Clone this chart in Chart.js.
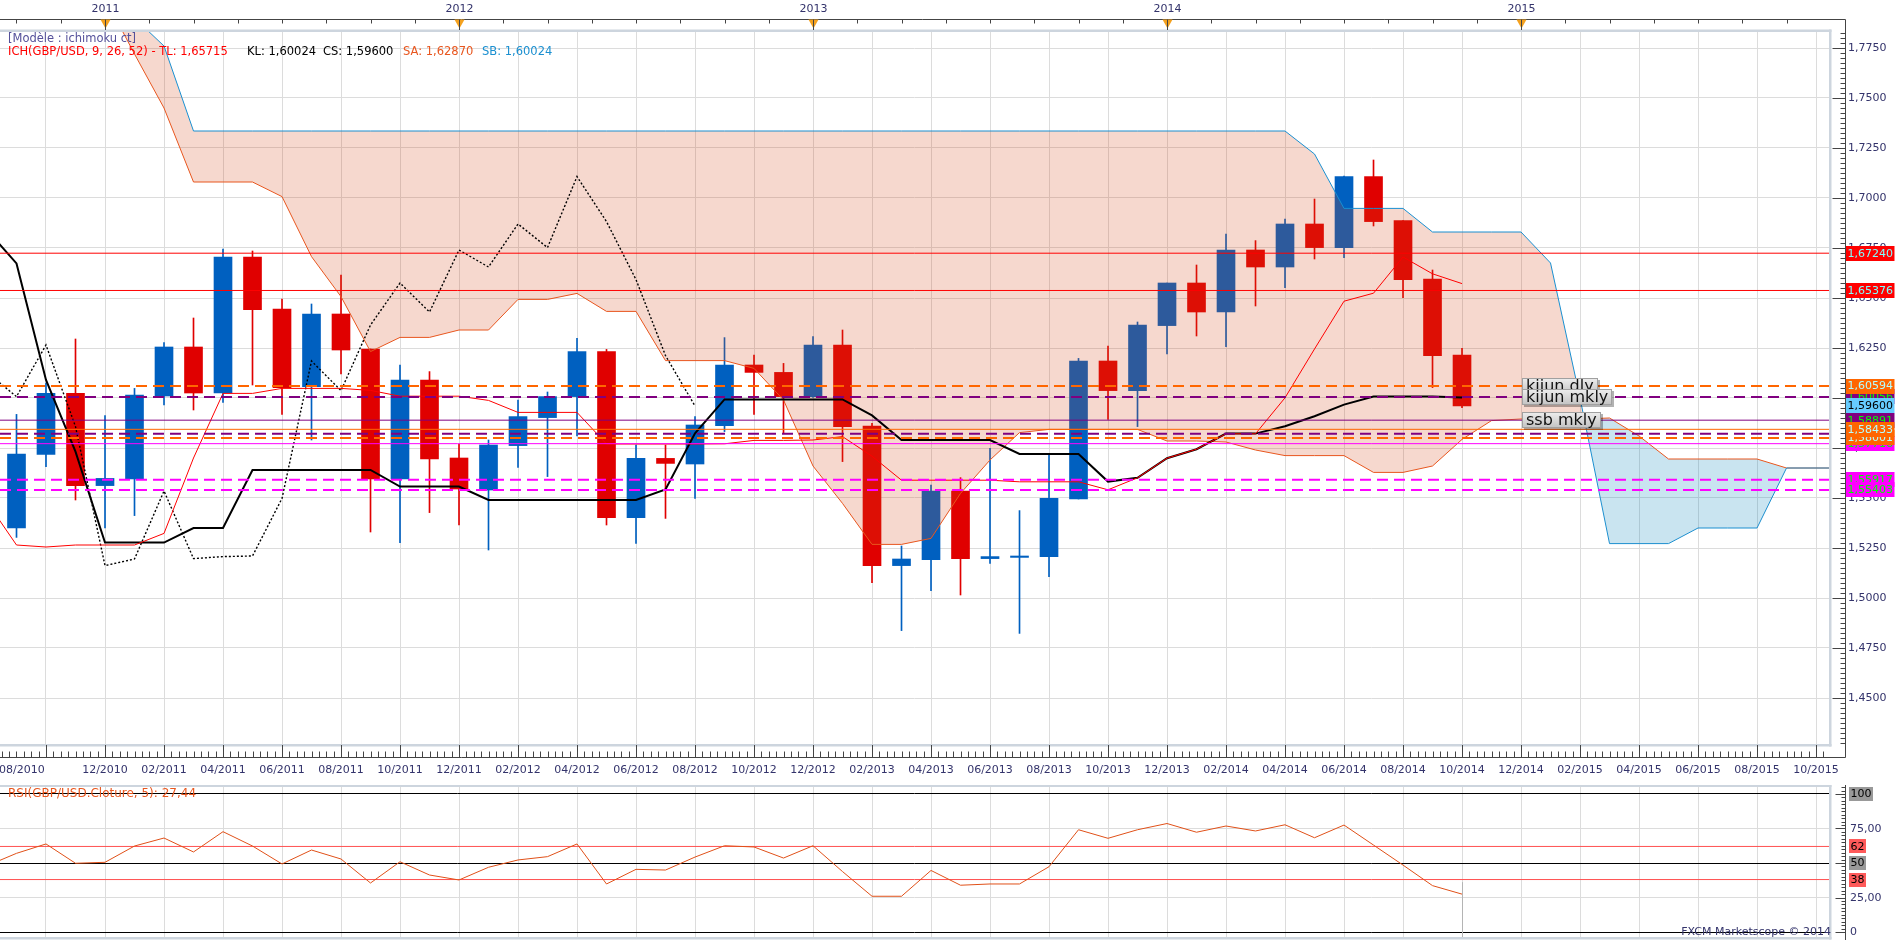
<!DOCTYPE html>
<html>
<head>
<meta charset="utf-8">
<title>GBP/USD mensuel - ichimoku</title>
<script src="https://cdn.jsdelivr.net/npm/chart.js@4.4.1/dist/chart.umd.min.js"></script>
<style>
  html, body { margin: 0; padding: 0; background: #fff; overflow: hidden; }
  #wrap { position: relative; width: 1903px; height: 940px; }
  canvas { position: absolute; left: 0; }
  #main { top: 0; }
  #rsi { top: 785px; }
</style>
</head>
<body>
<div id="wrap">
  <canvas id="main" width="1903" height="785"></canvas>
  <canvas id="rsi" width="1903" height="155"></canvas>
</div>
<script>
// month index 0 = 08/2010, one step per month
const xLabels = ['08/2010', '10/2010', '12/2010', '02/2011', '04/2011', '06/2011', '08/2011', '10/2011',
  '12/2011', '02/2012', '04/2012', '06/2012', '08/2012', '10/2012', '12/2012', '02/2013',
  '04/2013', '06/2013', '08/2013', '10/2013', '12/2013', '02/2014', '04/2014', '06/2014',
  '08/2014', '10/2014', '12/2014', '02/2015', '04/2015', '06/2015', '08/2015', '10/2015'];
const labelStep = 2;
const yearLabels = ['2011', '2012', '2013', '2014', '2015'];
const yearMonths = [4, 16, 28, 40, 52];
const priceTicks = [1.45, 1.475, 1.5, 1.525, 1.55, 1.575, 1.6, 1.625, 1.65, 1.675, 1.7, 1.725, 1.75, 1.775];
const rsiTicks = [0, 25, 50, 75, 100];

// monthly candles 09/2010 .. 10/2014
const candleFirst = 1;
const opens = [1.5350, 1.5718, 1.6023, 1.5562, 1.5595, 1.6010, 1.6255, 1.6025, 1.6705, 1.6445,
  1.6057, 1.6420, 1.6245, 1.5595, 1.6090, 1.5700, 1.5540, 1.5762, 1.5902, 1.6007,
  1.6232, 1.5402, 1.5698, 1.5670, 1.5862, 1.6165, 1.6128, 1.6007, 1.6265, 1.5860,
  1.5162, 1.5192, 1.5535, 1.5197, 1.5203, 1.5207, 1.5495, 1.6185, 1.6037, 1.6362,
  1.6575, 1.6430, 1.6740, 1.6655, 1.6870, 1.6752, 1.7107, 1.6887, 1.6595, 1.6215];
const highs = [1.5918, 1.6075, 1.6295, 1.5912, 1.6048, 1.6277, 1.6400, 1.6745, 1.6735, 1.6495,
  1.6470, 1.6615, 1.6245, 1.6165, 1.6132, 1.5770, 1.5790, 1.5990, 1.6030, 1.6298,
  1.6243, 1.5765, 1.5765, 1.5907, 1.6302, 1.6215, 1.6173, 1.6307, 1.6340, 1.5873,
  1.5260, 1.5565, 1.5602, 1.5748, 1.5437, 1.5723, 1.6198, 1.6260, 1.6380, 1.6575,
  1.6665, 1.6820, 1.6787, 1.6895, 1.6995, 1.7110, 1.7190, 1.6887, 1.6640, 1.6248];
const lows = [1.5303, 1.5657, 1.5490, 1.5350, 1.5412, 1.5965, 1.5940, 1.5978, 1.6065, 1.5918,
  1.5790, 1.6120, 1.5330, 1.5277, 1.5427, 1.5365, 1.5240, 1.5653, 1.5607, 1.5810,
  1.5365, 1.5273, 1.5398, 1.5498, 1.5832, 1.5918, 1.5823, 1.6003, 1.5682, 1.5077,
  1.4837, 1.5037, 1.5015, 1.5173, 1.4823, 1.5107, 1.5495, 1.5893, 1.5857, 1.6220,
  1.6310, 1.6257, 1.6460, 1.6552, 1.6695, 1.6702, 1.6860, 1.6502, 1.6052, 1.5952];
const closes = [1.5720, 1.6023, 1.5562, 1.5598, 1.6015, 1.6255, 1.6025, 1.6705, 1.6442, 1.6052,
  1.6420, 1.6240, 1.5595, 1.6090, 1.5695, 1.5545, 1.5765, 1.5907, 1.6007, 1.6232,
  1.5402, 1.5698, 1.5673, 1.5865, 1.6165, 1.6128, 1.6007, 1.6265, 1.5857, 1.5162,
  1.5195, 1.5535, 1.5197, 1.5207, 1.5210, 1.5498, 1.6185, 1.6037, 1.6365, 1.6575,
  1.6430, 1.6740, 1.6655, 1.6870, 1.6752, 1.7107, 1.6882, 1.6592, 1.6212, 1.5960];

// tenkan / kijun from 08/2010
const lineFirst = 0;
const tenkan = [1.5480, 1.5265, 1.5255, 1.5265, 1.5265, 1.5265, 1.5323, 1.5700, 1.6023, 1.6023,
  1.6048, 1.6048, 1.6048, 1.6038, 1.6009, 1.6009, 1.6009, 1.5988, 1.5928, 1.5928,
  1.5928, 1.5770, 1.5770, 1.5770, 1.5770, 1.5771, 1.5788, 1.5788, 1.5790, 1.5807,
  1.5709, 1.5589, 1.5589, 1.5589, 1.5589, 1.5581, 1.5581, 1.5581, 1.5541, 1.5601,
  1.5699, 1.5744, 1.5821, 1.5821, 1.6001, 1.6245, 1.6484, 1.6524, 1.6705, 1.6621, 1.6572];
const kijun = [1.6840, 1.6673, 1.6090, 1.5732, 1.5277, 1.5277, 1.5277, 1.5350, 1.5350, 1.5640,
  1.5640, 1.5640, 1.5640, 1.5640, 1.5557, 1.5557, 1.5557, 1.5490, 1.5490, 1.5490,
  1.5490, 1.5490, 1.5490, 1.5543, 1.5823, 1.5993, 1.5993, 1.5993, 1.5993, 1.5993,
  1.5913, 1.5790, 1.5790, 1.5790, 1.5790, 1.5720, 1.5720, 1.5720, 1.5582, 1.5601,
  1.5699, 1.5744, 1.5822, 1.5822, 1.5859, 1.5909, 1.5967, 1.6007, 1.6007, 1.6007, 1.6002];
const chikouShift = 26;

// cloud from 12/2010 to the right edge
const cloudFirst = 4;
const senkouA = [1.8000, 1.7720, 1.7450, 1.7080, 1.7080, 1.7080, 1.7007, 1.6707, 1.6507, 1.6232,
  1.6303, 1.6303, 1.6340, 1.6340, 1.6493, 1.6493, 1.6523, 1.6433, 1.6433, 1.6187,
  1.6187, 1.6187, 1.6148, 1.5990, 1.5660, 1.5473, 1.5268, 1.5268, 1.5298, 1.5523,
  1.5690, 1.5827, 1.5843, 1.5843, 1.5843, 1.5843, 1.5785, 1.5785, 1.5780, 1.5740,
  1.5712, 1.5712, 1.5712, 1.5628, 1.5628, 1.5660, 1.5793, 1.5887, 1.5895, 1.5895,
  1.5895, 1.5900, 1.5810, 1.5695, 1.5695, 1.5695, 1.5695, 1.5650, 1.5650, 1.5650];
const senkouB = [1.8000, 1.7900, 1.7760, 1.7335, 1.7335, 1.7335, 1.7335, 1.7335, 1.7335, 1.7335,
  1.7335, 1.7335, 1.7335, 1.7335, 1.7335, 1.7335, 1.7335, 1.7335, 1.7335, 1.7335,
  1.7335, 1.7335, 1.7335, 1.7335, 1.7335, 1.7335, 1.7335, 1.7335, 1.7335, 1.7335,
  1.7335, 1.7335, 1.7335, 1.7335, 1.7335, 1.7335, 1.7335, 1.7335, 1.7335, 1.7335,
  1.7335, 1.7220, 1.6948, 1.6948, 1.6948, 1.6830, 1.6830, 1.6830, 1.6830, 1.6675,
  1.6000, 1.5272, 1.5272, 1.5272, 1.5350, 1.5350, 1.5350, 1.5650, 1.5650, 1.5650];

// RSI(5) from 08/2010
const rsiValues = [48.0, 57.0, 63.8, 49.8, 50.5, 62.3, 68.1, 58.0, 72.7, 62.3,
  49.3, 59.4, 52.9, 35.5, 50.9, 41.3, 37.7, 46.9, 52.2, 54.6,
  63.8, 34.8, 45.4, 44.9, 54.3, 62.5, 61.6, 53.6, 62.5, 43.8,
  25.9, 25.9, 44.6, 33.9, 34.8, 34.8, 47.3, 74.1, 67.9, 74.1,
  78.6, 72.3, 76.8, 73.2, 77.7, 68.3, 77.5, 63.0, 48.5, 33.6, 27.44];
const rsiLevels = [62, 38];

// horizontal levels drawn by the user
const priceLevels = [1.67240, 1.65376, 1.60594, 1.60056, 1.58891, 1.58433, 1.58218, 1.58001, 1.57716, 1.55917, 1.55403];

// ---- styles ----
const DASH = [11, 6];
const levelStyles = [
  { color: '#ff0000', width: 1, dash: [], box: '#ff0000', text: '#80ffff' },
  { color: '#ff0000', width: 1, dash: [], box: '#ff0000', text: '#80ffff' },
  { color: '#ff6600', width: 2, dash: DASH, box: '#ff6600', text: '#b4ffff' },
  { color: '#800080', width: 2, dash: DASH, box: '#800080', text: '#00ff00' },
  { color: '#800080', width: 1, dash: [], box: '#800080', text: '#00ff00' },
  { color: '#ff6600', width: 1, dash: [], box: '#ff6600', text: '#b4ffff' },
  { color: '#800080', width: 2, dash: DASH, box: null },
  { color: '#ff6600', width: 2, dash: DASH, box: '#ff6600', text: '#b4ffff' },
  { color: '#ff00ff', width: 1, dash: [], box: '#ff00ff', text: '#00ff00' },
  { color: '#ff00ff', width: 2, dash: DASH, box: '#ff00ff', text: '#00ff00' },
  { color: '#ff00ff', width: 2, dash: DASH, box: '#ff00ff', text: '#00ff00' }
];
const boxOrder = [0, 1, 3, 2, 4, 8, 7, 5, 9, 10];
const calloutLevels = [2, 3, 4];
const calloutTexts = ['kijun dly', 'kijun mkly', 'ssb mkly'];
const calloutMonth = 52;

const legendTitle = '[Modèle : ichimoku ct]';
const legendParts = ['ICH(GBP/USD, 9, 26, 52) - TL: 1,65715', 'KL: 1,60024', 'CS: 1,59600', 'SA: 1,62870', 'SB: 1,60024'];
const legendColors = ['#ff0000', '#000000', '#000000', '#e8561e', '#1a8fd0'];
const legendX = [8, 247, 323, 403, 482];
const rsiTitle = 'RSI(GBP/USD.Cloture, 5): 27,44';
const credit = 'FXCM Marketscope © 2014';

const X_MIN = 0.4407, X_MAX = 62.44;
const INK = '#33336b';
const FRAME = '#cdd5de';
const GRID = '#dcdcdc';
const AXIS_X = 1845.5;
const FAMILY = '"DejaVu Sans", Verdana, sans-serif';
const F11 = '11px ' + FAMILY;
const F115 = '11.5px ' + FAMILY;
const F12 = '12px ' + FAMILY;
const UP = '#0060c0', DOWN = '#e00000';

const fmt = (v, d) => v.toFixed(d).replace('.', ',');
const pts = (arr, first) => arr.map((v, k) => ({ x: first + k, y: v }));
const crisp = v => Math.round(v) + 0.5;

function labelBox(ctx, text, py, bg, fg, x0, h) {
  ctx.font = F11;
  const w = ctx.measureText(text).width + 3;
  ctx.fillStyle = bg;
  ctx.fillRect(x0, Math.round(py - h / 2), w, h);
  ctx.fillStyle = fg;
  ctx.textAlign = 'left';
  ctx.textBaseline = 'middle';
  ctx.fillText(text, x0 + 1.5, py + 0.5);
}

function callout(ctx, text, px, py) {
  ctx.font = '16px ' + FAMILY;
  const w = Math.round(ctx.measureText(text).width + 8), h = 16;
  const x0 = Math.round(px), y0 = Math.round(py - h / 2);
  ctx.fillStyle = 'rgba(0,0,0,0.3)';
  ctx.fillRect(x0 + 2, y0 + 2, w, h);
  const g = ctx.createLinearGradient(0, y0, 0, y0 + h);
  g.addColorStop(0, '#eeeeee');
  g.addColorStop(1, '#c2c2c2');
  ctx.fillStyle = g;
  ctx.fillRect(x0, y0, w, h);
  ctx.strokeStyle = '#a0a0a0';
  ctx.lineWidth = 1;
  ctx.strokeRect(x0 + 0.5, y0 + 0.5, w - 1, h - 1);
  ctx.fillStyle = '#111';
  ctx.textAlign = 'left';
  ctx.textBaseline = 'middle';
  ctx.fillText(text, x0 + 4, y0 + h / 2 + 0.5);
}

function frame(ctx, a) {
  ctx.fillStyle = FRAME;
  ctx.fillRect(0, a.top - 2.5, a.right + 2.5, 2.5);
  ctx.fillRect(a.right, a.top - 2.5, 2.5, a.bottom - a.top + 5);
  ctx.fillRect(0, a.bottom, a.right + 2.5, 2.5);
}

// ---- main panel ----
const isUp = opens.map((o, k) => closes[k] >= o);
const candleColors = isUp.map(u => (u ? UP : DOWN));

const mainSets = [];
priceLevels.forEach((v, k) => {
  const s = levelStyles[k];
  mainSets.push({
    type: 'line', data: [{ x: X_MIN, y: v }, { x: X_MAX, y: v }],
    borderColor: s.color, borderWidth: s.width, borderDash: s.dash,
    pointRadius: 0, order: 0
  });
});
mainSets.push({
  type: 'line', data: pts(tenkan, lineFirst), borderColor: '#ff0000', borderWidth: 1,
  pointRadius: 0, order: 1
});
mainSets.push({
  type: 'line', data: pts(kijun, lineFirst), borderColor: '#000000', borderWidth: 2,
  pointRadius: 0, order: 1
});
mainSets.push({
  type: 'line', data: pts(closes, candleFirst - chikouShift), borderColor: '#000000', borderWidth: 1.4,
  borderDash: [2, 2], pointRadius: 0, order: 1
});
const sbIndex = mainSets.length;
mainSets.push({
  type: 'line', data: pts(senkouB, cloudFirst), borderColor: '#1a8fd0', borderWidth: 1,
  pointRadius: 0, order: 2
});
mainSets.push({
  type: 'line', data: pts(senkouA, cloudFirst), borderColor: '#e8561e', borderWidth: 1,
  pointRadius: 0, order: 2,
  fill: { target: sbIndex, above: 'rgba(0,128,184,0.21)', below: 'rgba(212,73,22,0.21)' }
});
mainSets.push({
  type: 'bar', data: opens.map((o, k) => ({ x: candleFirst + k, y: [o, closes[k]] })),
  backgroundColor: candleColors, borderWidth: 0, barThickness: 18, grouped: false,
  minBarLength: 1, order: 3
});
mainSets.push({
  type: 'bar', data: lows.map((l, k) => ({ x: candleFirst + k, y: [l, highs[k]] })),
  backgroundColor: candleColors, borderWidth: 0, barThickness: 1, grouped: false, order: 4
});

const monthTicks = s => {
  s.ticks = xLabels.map((_, k) => ({ value: k * labelStep }))
    .filter(t => t.value >= X_MIN && t.value <= X_MAX);
};

const mainDeco = {
  id: 'mainDeco',
  afterDraw(chart) {
    const { ctx, chartArea: a, scales: { x, y } } = chart;
    const topY = 19.5, botY = 757.5;
    ctx.save();
    frame(ctx, a);

    ctx.strokeStyle = '#444';
    ctx.lineWidth = 1;
    ctx.beginPath();
    ctx.moveTo(0, topY); ctx.lineTo(AXIS_X, topY);
    ctx.moveTo(AXIS_X, topY); ctx.lineTo(AXIS_X, botY);
    ctx.moveTo(0, botY); ctx.lineTo(AXIS_X, botY);
    for (let m = 1; m <= X_MAX; m += 1.5) {
      const px = crisp(x.getPixelForValue(m));
      ctx.moveTo(px, topY); ctx.lineTo(px, topY + 4);
    }
    for (let m = Math.ceil(X_MIN * 4) / 4; m <= X_MAX; m += 0.25) {
      const px = crisp(x.getPixelForValue(m));
      const major = m % labelStep === 0;
      ctx.moveTo(px, major ? a.bottom + 1 : botY - 6); ctx.lineTo(px, botY);
    }
    for (let k = Math.ceil(y.min / 0.0025); k * 0.0025 <= y.max; k++) {
      const py = crisp(y.getPixelForValue(k * 0.0025));
      ctx.moveTo(AXIS_X - 5, py); ctx.lineTo(AXIS_X, py);
    }
    priceTicks.forEach(v => {
      const py = crisp(y.getPixelForValue(v));
      ctx.moveTo(AXIS_X - 13, py); ctx.lineTo(AXIS_X, py);
    });
    ctx.stroke();

    // years on top
    ctx.font = F11;
    ctx.textBaseline = 'middle';
    ctx.textAlign = 'center';
    yearMonths.forEach((m, k) => {
      const px = crisp(x.getPixelForValue(m));
      ctx.fillStyle = '#f4a11e';
      ctx.beginPath();
      ctx.moveTo(px - 5, topY); ctx.lineTo(px + 5, topY); ctx.lineTo(px, topY + 9); ctx.closePath();
      ctx.fill();
      ctx.strokeStyle = '#444';
      ctx.beginPath(); ctx.moveTo(px, topY); ctx.lineTo(px, a.top - 2); ctx.stroke();
      ctx.fillStyle = INK;
      ctx.fillText(yearLabels[k], px, 9);
    });

    // month labels
    xLabels.forEach((t, k) => {
      if (k === 1) return;
      const px = x.getPixelForValue(k * labelStep);
      ctx.fillStyle = INK;
      if (px < 20) { ctx.textAlign = 'left'; ctx.fillText(t, -1, 770); }
      else { ctx.textAlign = 'center'; ctx.fillText(t, px, 770); }
    });

    // level labels on the price axis
    boxOrder.forEach(k => {
      const s = levelStyles[k];
      labelBox(ctx, fmt(priceLevels[k], 5), y.getPixelForValue(priceLevels[k]), s.box, s.text, 1846, 15);
    });
    const last = closes[closes.length - 1];
    labelBox(ctx, fmt(last, 5), y.getPixelForValue(last), '#66ccff', '#000000', 1846, 15);

    calloutLevels.forEach((k, n) => {
      callout(ctx, calloutTexts[n], x.getPixelForValue(calloutMonth) + 1, y.getPixelForValue(priceLevels[k]));
    });

    // indicator legend
    ctx.textAlign = 'left';
    ctx.textBaseline = 'middle';
    ctx.font = F115;
    ctx.fillStyle = '#54509a';
    ctx.fillText(legendTitle, 8, 39);
    legendParts.forEach((t, k) => {
      ctx.fillStyle = legendColors[k];
      ctx.fillText(t, legendX[k], 52);
    });
    ctx.restore();
  }
};

new Chart(document.getElementById('main'), {
  type: 'line',
  data: { datasets: mainSets },
  options: {
    responsive: false,
    animation: false,
    events: [],
    layout: { padding: { top: 32, left: 0, right: 0, bottom: 0 } },
    plugins: { legend: { display: false }, tooltip: { enabled: false } },
    scales: {
      x: {
        type: 'linear', min: X_MIN, max: X_MAX, offset: false,
        afterBuildTicks: monthTicks,
        afterFit: s => { s.height = 41; },
        ticks: { display: false },
        grid: { color: GRID, drawTicks: false, offset: false },
        border: { display: false }
      },
      y: {
        type: 'linear', position: 'right', min: 1.427, max: 1.783,
        afterBuildTicks: s => { s.ticks = priceTicks.map(v => ({ value: v })); },
        afterFit: s => { s.width = 74; },
        ticks: {
          padding: 19, color: INK,
          font: { family: FAMILY, size: 11 },
          callback: v => fmt(v, 4)
        },
        grid: { color: GRID, drawTicks: false },
        border: { display: false }
      }
    }
  },
  plugins: [mainDeco]
});

// ---- RSI panel ----
const rsiSets = [];
rsiLevels.forEach(v => {
  rsiSets.push({
    type: 'line', data: [{ x: X_MIN, y: v }, { x: X_MAX, y: v }],
    borderColor: '#ff5050', borderWidth: 1, pointRadius: 0, order: 2
  });
});
rsiSets.push({
  type: 'line', data: pts(rsiValues, lineFirst), borderColor: '#e05018', borderWidth: 1,
  pointRadius: 0, order: 1
});

const rsiDeco = {
  id: 'rsiDeco',
  afterDraw(chart) {
    const { ctx, chartArea: a, scales: { x, y } } = chart;
    ctx.save();
    frame(ctx, a);

    const lastIdx = rsiValues.length - 1;
    const cx = crisp(x.getPixelForValue(lineFirst + lastIdx));
    ctx.strokeStyle = '#b4b4b4';
    ctx.lineWidth = 1;
    ctx.beginPath();
    ctx.moveTo(cx, y.getPixelForValue(rsiValues[lastIdx]) - 12);
    ctx.lineTo(cx, a.bottom);
    ctx.stroke();

    ctx.strokeStyle = '#444';
    ctx.beginPath();
    ctx.moveTo(AXIS_X, 0); ctx.lineTo(AXIS_X, chart.height);
    for (let v = 0; v <= 105; v += 2.5) {
      const py = crisp(y.getPixelForValue(v));
      const major = v % 25 === 0;
      ctx.moveTo(AXIS_X - (major ? 10 : 4), py); ctx.lineTo(AXIS_X, py);
    }
    ctx.stroke();

    ctx.font = F11;
    ctx.textAlign = 'left';
    ctx.textBaseline = 'middle';
    ctx.fillStyle = INK;
    [25, 75].forEach(v => ctx.fillText(fmt(v, 2), 1850, y.getPixelForValue(v) + 0.5));
    ctx.fillText('0', 1850, y.getPixelForValue(0) + 0.5);
    labelBox(ctx, '100', y.getPixelForValue(100), '#999999', '#000000', 1849, 14);
    labelBox(ctx, '50', y.getPixelForValue(50), '#999999', '#000000', 1849, 14);
    rsiLevels.forEach(v => labelBox(ctx, String(v), y.getPixelForValue(v), '#ff5a5a', '#000000', 1849, 14));

    ctx.textBaseline = 'middle';
    ctx.textAlign = 'left';
    ctx.font = F12;
    ctx.fillStyle = '#e8561e';
    ctx.fillText(rsiTitle, 8, y.getPixelForValue(100));
    ctx.font = F11;
    ctx.textAlign = 'right';
    ctx.fillStyle = INK;
    ctx.fillText(credit, a.right + 2, y.getPixelForValue(0));
    ctx.restore();
  }
};

new Chart(document.getElementById('rsi'), {
  type: 'line',
  data: { datasets: rsiSets },
  options: {
    responsive: false,
    animation: false,
    events: [],
    layout: { padding: { top: 2, left: 0, right: 0, bottom: 0 } },
    plugins: { legend: { display: false }, tooltip: { enabled: false } },
    scales: {
      x: {
        type: 'linear', min: X_MIN, max: X_MAX, offset: false,
        afterBuildTicks: monthTicks,
        afterFit: s => { s.height = 3; },
        ticks: { display: false },
        grid: { color: GRID, drawTicks: false, offset: false },
        border: { display: false }
      },
      y: {
        type: 'linear', position: 'right', min: -3.62, max: 105.07,
        afterBuildTicks: s => { s.ticks = rsiTicks.map(v => ({ value: v })); },
        afterFit: s => { s.width = 74; },
        ticks: { display: false },
        grid: {
          drawTicks: false,
          color: c => (c.tick && c.tick.value % 50 === 0 ? '#000000' : GRID)
        },
        border: { display: false }
      }
    }
  },
  plugins: [rsiDeco]
});
</script>
</body>
</html>
